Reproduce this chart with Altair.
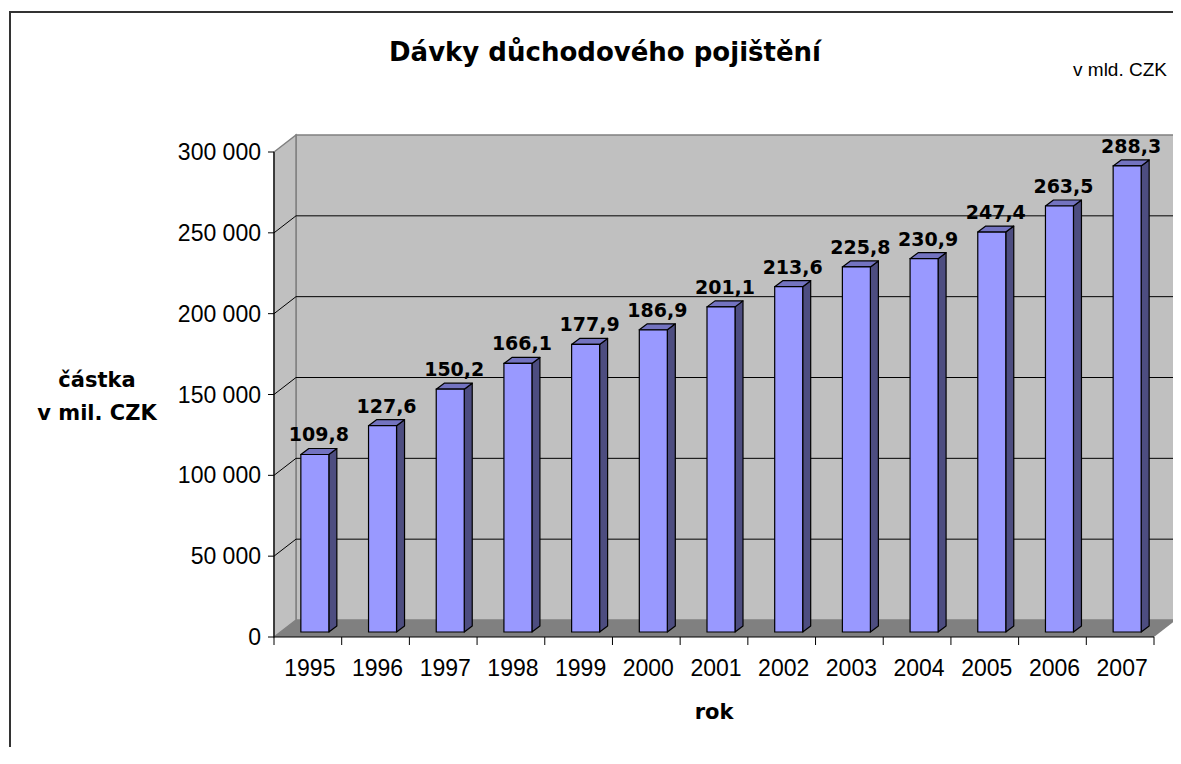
import altair as alt
import pandas as pd

# ---- data ----
years = ["1995", "1996", "1997", "1998", "1999", "2000", "2001",
         "2002", "2003", "2004", "2005", "2006", "2007"]
values = [109800, 127600, 150200, 166100, 177900, 186900, 201100,
          213600, 225800, 230900, 247400, 263500, 288300]  # mil. CZK
y_ticks = [0, 50000, 100000, 150000, 200000, 250000, 300000]

title_text = "Dávky důchodového pojištění"
unit_text = "v mld. CZK"
y_title = "částka\nv mil. CZK"
x_title = "rok"

# ---- layout / style constants (pixels) ----
W, H = 880, 485
PAD_L, PAD_T, PAD_R, PAD_B = 266, 144, 19, 110
N = len(years)
YMAX = 300000
UX = N / W          # x data units per pixel
UY = YMAX / H       # y data units per pixel
WALL_DX, WALL_DY = 22, 17
BAR_W, BAR_SX, BAR_SY, BAR_DX, BAR_DY = 28, 7, 5, 8, 6
FONT = "Liberation Sans"
BFONT = "DejaVu Sans"

df = pd.DataFrame({"year": years, "value": values, "i": list(range(N))})
tick_df = pd.DataFrame({"v": y_ticks})

xs = alt.Scale(domain=[0, N], nice=False, zero=False)
ys = alt.Scale(domain=[0, YMAX], nice=False, zero=False)
one = alt.Data(values=[{}])


def X(f):
    return alt.X(f, type="quantitative", scale=xs, axis=None)


def Y(f):
    return alt.Y(f, type="quantitative", scale=ys, axis=None)


# outer frame: top and left edges
frame_left = alt.Chart(one).mark_rule(color="#333333", strokeWidth=2).encode(
    x=alt.value(-264), x2=alt.value(-264), y=alt.value(-141), y2=alt.value(H + PAD_B))
frame_top = alt.Chart(one).mark_rule(color="#333333", strokeWidth=2).encode(
    x=alt.value(-265), x2=alt.value(W + PAD_R + 20), y=alt.value(-140), y2=alt.value(-140))

# back wall
back = alt.Chart(one).mark_rect(fill="#C0C0C0", stroke="#808080", strokeWidth=1.5).encode(
    x=alt.value(WALL_DX), x2=alt.value(W + WALL_DX),
    y=alt.value(-WALL_DY), y2=alt.value(H - WALL_DY))

# side wall
side = alt.Chart(alt.sequence(0, 2, as_="d")).transform_calculate(
    x=f"datum.d * {WALL_DX * UX}",
    y=f"datum.d * {WALL_DY * UY}",
    y2=f"{YMAX} + datum.d * {WALL_DY * UY}",
).mark_area(fill="#C0C0C0", stroke="#808080", strokeWidth=1.5).encode(
    x=X("x"), y=Y("y"), y2="y2")

# floor
floor = alt.Chart(alt.sequence(0, 2, as_="d")).transform_calculate(
    y=f"datum.d * {WALL_DY * UY}",
    x=f"datum.d * {WALL_DX * UX}",
    x2=f"{N} + datum.d * {WALL_DX * UX}",
).mark_area(orient="horizontal", fill="#808080").encode(
    y=Y("y"), x=X("x"), x2="x2")

grid_df_filter = f"datum.v > 0 && datum.v < {YMAX}"
grid_back = alt.Chart(tick_df).transform_filter(grid_df_filter).transform_calculate(
    yb=f"datum.v + {WALL_DY * UY}",
    xa=f"{WALL_DX * UX}",
    xb=f"{N} + {WALL_DX * UX}",
).mark_rule(color="#000000", strokeWidth=1).encode(x=X("xa"), x2="xb", y=Y("yb"))

grid_side = alt.Chart(tick_df).transform_filter(grid_df_filter).transform_calculate(
    yb=f"datum.v + {WALL_DY * UY}",
    xa="0",
    xb=f"{WALL_DX * UX}",
).mark_rule(color="#000000", strokeWidth=1).encode(x=X("xa"), x2="xb", y=Y("v"), y2="yb")

# bars
bar_side = alt.Chart(df).transform_calculate(d="[0, 1]").transform_flatten(["d"]).transform_calculate(
    x=f"datum.i + 0.5 + ({BAR_SX + BAR_W / 2} + datum.d * {BAR_DX}) * {UX}",
    y=f"({BAR_SY} + datum.d * {BAR_DY}) * {UY}",
    y2=f"datum.value + ({BAR_SY} + datum.d * {BAR_DY}) * {UY}",
).mark_area(fill="#4D4D80", stroke="#000000", strokeWidth=1.2, strokeJoin="round").encode(
    x=X("x"), y=Y("y"), y2="y2", detail="year:N")

bar_top = alt.Chart(df).transform_calculate(d="[0, 1]").transform_flatten(["d"]).transform_calculate(
    y=f"datum.value + ({BAR_SY} + datum.d * {BAR_DY}) * {UY}",
    x=f"datum.i + 0.5 + ({BAR_SX - BAR_W / 2} + datum.d * {BAR_DX}) * {UX}",
    x2=f"datum.i + 0.5 + ({BAR_SX + BAR_W / 2} + datum.d * {BAR_DX}) * {UX}",
).mark_area(orient="horizontal", fill="#7373C0", stroke="#000000", strokeWidth=1.2,
            strokeJoin="round").encode(y=Y("y"), x=X("x"), x2="x2", detail="year:N")

bar_front = alt.Chart(df).transform_calculate(
    x=f"datum.i + 0.5 + {(BAR_SX - BAR_W / 2) * UX}",
    x2=f"datum.i + 0.5 + {(BAR_SX + BAR_W / 2) * UX}",
    y=f"{BAR_SY * UY}",
    y2=f"datum.value + {BAR_SY * UY}",
).mark_rect(fill="#9999FF", stroke="#000000", strokeWidth=1.2).encode(
    x=X("x"), x2="x2", y=Y("y"), y2="y2")

labels = alt.Chart(df).transform_calculate(
    xc="datum.i + 0.5",
    lab="replace(format(datum.value / 1000, '.1f'), '.', ',')",
).mark_text(font=BFONT, fontSize=19, fontWeight="bold", color="#000000",
            dx=11, dy=-18, baseline="alphabetic", align="center").encode(
    x=X("xc"), y=Y("value"), text="lab:N")

# axes
y_line = alt.Chart(one).mark_rule(color="#000000", strokeWidth=1.2).encode(
    x=alt.value(0), x2=alt.value(0), y=alt.value(0), y2=alt.value(H))
y_tick_marks = alt.Chart(tick_df).mark_rule(color="#000000", strokeWidth=1).encode(
    x=alt.value(-6), x2=alt.value(0), y=Y("v"))
y_labels = alt.Chart(tick_df).transform_calculate(
    lab="replace(format(datum.v, ','), ',', ' ')"
).mark_text(font=FONT, fontSize=23, align="right", baseline="alphabetic", dy=8,
            color="#000000").encode(
    x=alt.value(-13), y=Y("v"), text="lab:N")

x_line = alt.Chart(one).mark_rule(color="#000000", strokeWidth=1.2).encode(
    x=alt.value(0), x2=alt.value(W), y=alt.value(H), y2=alt.value(H))
x_tick_marks = alt.Chart(alt.sequence(0, N + 1, as_="t")).mark_rule(
    color="#000000", strokeWidth=1).encode(x=X("t"), y=alt.value(H), y2=alt.value(H + 8))
x_labels = alt.Chart(df).transform_calculate(xc="datum.i + 0.5").mark_text(
    font=FONT, fontSize=23, align="center", baseline="alphabetic", color="#000000",
    dx=2).encode(x=X("xc"), y=alt.value(524), text="year:N")

# titles
t_main = alt.Chart(one).mark_text(font=BFONT, fontSize=26, fontWeight="bold",
                                  align="center", baseline="alphabetic", color="#000000").encode(
    x=alt.value(331), y=alt.value(-91), text=alt.value(title_text))
t_unit = alt.Chart(one).mark_text(font=FONT, fontSize=19, align="center",
                                  baseline="alphabetic", color="#000000").encode(
    x=alt.value(846), y=alt.value(-76), text=alt.value(unit_text))
t_y = alt.Chart(one).mark_text(font=BFONT, fontSize=21, fontWeight="bold", align="center",
                               baseline="alphabetic", lineBreak="\n", lineHeight=33,
                               color="#000000").encode(
    x=alt.value(-177), y=alt.value(235), text=alt.value(y_title))
t_x = alt.Chart(one).mark_text(font=BFONT, fontSize=21, fontWeight="bold", align="center",
                               baseline="alphabetic", color="#000000").encode(
    x=alt.value(440), y=alt.value(567), text=alt.value(x_title))

chart = alt.layer(
    frame_left, frame_top, back, side, floor, grid_back, grid_side,
    bar_side, bar_top, bar_front, labels,
    y_line, y_tick_marks, y_labels, x_line, x_tick_marks, x_labels,
    t_main, t_unit, t_y, t_x,
).properties(
    width=W, height=H,
    autosize=alt.AutoSizeParams(type="none"),
    padding={"left": PAD_L, "top": PAD_T, "right": PAD_R, "bottom": PAD_B},
    background="#FFFFFF",
).configure_view(stroke=None)

chart.save("out.html", embed_options={"renderer": "svg", "actions": False})
